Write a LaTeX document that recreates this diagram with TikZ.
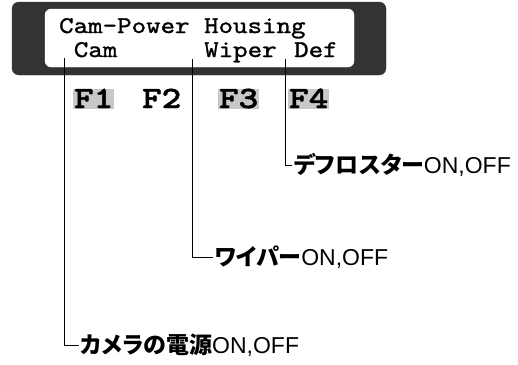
\documentclass[tikz,border=0pt]{standalone}
\usepackage{fontspec}
\setmainfont{Liberation Sans}
\newfontfamily\lcdfont{lmmono10-regular.otf}[FakeStretch=1.15,FakeBold=1.2]
\newfontfamily\keyfont{lmmonolt10-bold.otf}[FakeStretch=1.2,FakeBold=1.5]
\newfontfamily\jpfont{Noto Sans CJK JP}[RawFeature=+palt]
\definecolor{panel}{RGB}{51,51,51}
\definecolor{keygray}{RGB}{200,200,200}

\begin{document}
\begin{tikzpicture}[x=1pt,y=-1pt,
    lcd/.style={inner sep=0pt,anchor=base west,font=\lcdfont\fontsize{24}{24}\selectfont},
    fkey/.style={inner xsep=1pt,inner ysep=0pt,text height=19pt,text depth=1pt,anchor=base west,
        font=\keyfont\fontsize{31}{31}\selectfont},
    lbl/.style={inner sep=1.5pt,anchor=west,font=\fontsize{23}{23}\selectfont},
    lead/.style={line width=0.9pt}]
    \useasboundingbox (0,0) rectangle (518,364);
    % display panel
    \filldraw[panel,rounded corners=7pt] (12,2) rectangle (386,75);
    \filldraw[white,rounded corners=6pt] (45,9) rectangle (354,67);
    \node[lcd] (title) at (59,33) {Cam-Power Housing};
    \node[lcd] (cam) at (73.7,57) {Cam};
    \node[lcd] (wiper) at (204,57) {Wiper};
    \node[lcd] (def) at (294,57) {Def};
    % function keys
    \node[fkey,fill=keygray] (f1) at (73,108) {F1};
    \node[fkey] (f2) at (141,108) {F2};
    \node[fkey,fill=keygray] (f3) at (218,108) {F3};
    \node[fkey,fill=keygray] (f4) at (288,108) {F4};
    % labels
    \node[lbl] (deflbl) at (292,165) {{\jpfont\bfseries デフロスター}ON,OFF};
    \node[lbl] (wiperlbl) at (213,257) {{\jpfont\bfseries ワイパー}ON,OFF};
    \node[lbl] (camlbl) at (79,345) {{\jpfont\bfseries カメラの電源}ON,OFF};
    % leader lines
    \draw[lead] ([shift={(-9,2)}]def.base west) |- (deflbl.west);
    \draw[lead] ([shift={(-12,2)}]wiper.base west) |- (wiperlbl.west);
    \draw[lead] ([shift={(-9.7,1)}]cam.base west) |- (camlbl.west);
\end{tikzpicture}
\end{document}
